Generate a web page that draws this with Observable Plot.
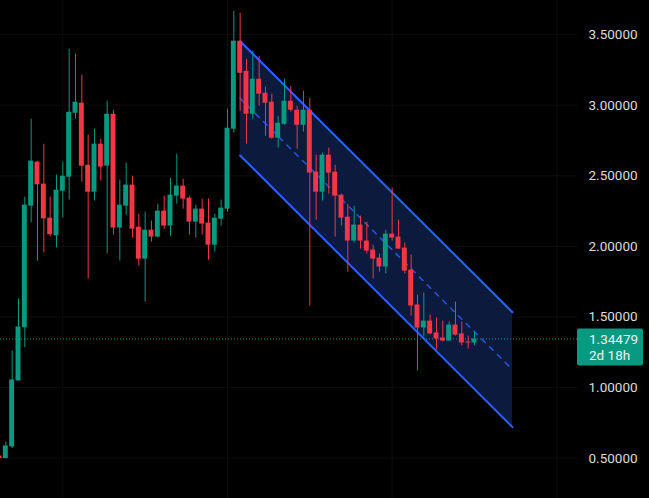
<!DOCTYPE html>
<html>
<head>
<meta charset="utf-8">
<script src="https://cdn.jsdelivr.net/npm/d3@7"></script>
<script src="https://cdn.jsdelivr.net/npm/@observablehq/plot@0.6"></script>
<style>
  html, body { margin: 0; padding: 0; background: #000; }
  #chart { width: 649px; height: 498px; overflow: hidden; }
</style>
</head>
<body>
<div id="chart"></div>
<script>
// Candle data (index order, oldest first)
const opens  = [0.515,0.497,0.580,1.047,1.424,2.285,2.597,2.441,2.200,2.075,2.391,2.490,2.943,3.014,2.575,2.384,2.724,2.568,2.936,2.130,2.285,2.434,2.136,1.910,2.115,2.066,2.250,2.144,2.356,2.427,2.342,2.172,2.264,2.165,2.009,2.193,2.264,2.830,3.453,3.240,2.936,3.184,3.085,3.021,2.766,2.865,3.028,2.964,2.858,2.964,2.526,2.384,2.646,2.526,2.363,2.207,2.038,2.151,2.038,1.974,1.917,1.854,2.087,2.066,1.988,1.832,1.585,1.422,1.471,1.387,1.351,1.330,1.443,1.380,1.323,1.316];
const highs  = [0.520,0.615,1.259,1.629,2.349,2.901,2.600,2.724,2.349,2.505,2.597,3.396,3.361,3.212,2.788,2.830,2.759,3.028,2.964,2.469,2.589,2.497,2.229,2.243,2.179,2.299,2.356,2.483,2.653,2.476,2.356,2.292,2.335,2.335,2.229,2.328,2.972,3.665,3.651,3.325,3.382,3.347,3.127,3.078,2.922,3.184,3.134,2.993,3.099,3.049,2.646,2.660,2.696,2.575,2.370,2.299,2.285,2.214,2.172,2.009,1.946,2.115,2.413,2.186,2.024,1.939,1.655,1.670,1.514,1.493,1.471,1.464,1.606,1.464,1.365,1.394];
const lows   = [0.490,0.497,0.568,1.047,1.283,2.167,1.896,1.953,2.068,1.990,2.202,2.328,2.901,2.455,1.769,2.321,2.462,1.946,2.080,1.896,2.221,2.059,1.861,1.606,2.031,2.059,2.122,2.073,2.299,2.264,2.080,2.059,2.080,1.903,1.960,2.144,2.243,2.802,2.957,2.724,2.901,2.993,2.780,2.759,2.696,2.858,2.950,2.688,2.809,1.578,2.186,2.321,2.370,2.066,2.144,1.818,2.024,1.981,1.946,1.769,1.818,1.804,2.038,1.980,1.804,1.507,1.118,1.358,1.373,1.266,1.323,1.330,1.365,1.295,1.273,1.295];
const closes = [0.497,0.587,1.054,1.429,2.292,2.604,2.436,2.195,2.082,2.398,2.497,2.950,3.021,2.568,2.384,2.724,2.561,2.936,2.130,2.292,2.434,2.122,1.910,2.115,2.066,2.250,2.144,2.363,2.427,2.335,2.172,2.264,2.158,2.009,2.200,2.271,2.837,3.453,3.226,2.936,3.184,3.078,3.014,2.766,2.872,3.028,2.964,2.858,2.964,2.519,2.384,2.646,2.519,2.356,2.200,2.038,2.151,2.038,1.967,1.910,1.854,2.087,2.059,1.981,1.825,1.578,1.422,1.471,1.380,1.344,1.330,1.443,1.372,1.316,1.316,1.34479];

// Regression channel (start / end bar index, upper / lower values)
const channelIdx   = [38, 81];
const channelUpper = [3.453, 1.534];
const channelLower = [2.644, 0.720];

// Axis ticks and time grid positions
const yTicks = [0.5, 1.0, 1.5, 2.0, 2.5, 3.0, 3.5];
const timeGridIdx = [10, 36, 62, 88];

const lastPrice = 1.34479;
const countdown = "2d 18h";

const UP = "#089981", DOWN = "#f23645";

const candles = opens.map((o, i) => ({i, o, h: highs[i], l: lows[i], c: closes[i], up: closes[i] >= o}));
const channel = channelIdx.map((x, k) => ({i: x, upper: channelUpper[k], lower: channelLower[k], mid: (channelUpper[k] + channelLower[k]) / 2}));

function priceLabel(...args) {
  const scales = args[1];
  const dims = args.find(a => a && typeof a === "object" && "marginRight" in a && "width" in a);
  const y = scales.y(lastPrice);
  const x0 = dims.width - dims.marginRight;
  const g = d3.create("svg:g").attr("text-anchor", "start");
  g.append("rect").attr("x", x0).attr("y", y - 10).attr("width", 66).attr("height", 37).attr("rx", 2).attr("fill", UP);
  g.append("text").attr("x", x0 + 12).attr("y", y + 1).attr("dy", "0.35em").attr("text-anchor", "start")
    .attr("fill", "#f0f0f0").attr("font-family", "Roboto, sans-serif").attr("font-size", 13.5).text(lastPrice.toFixed(5));
  g.append("text").attr("x", x0 + 12).attr("y", y + 17).attr("dy", "0.35em").attr("text-anchor", "start")
    .attr("fill", "#f0f0f0").attr("font-family", "Roboto, sans-serif").attr("font-size", 13.5).text(countdown);
  return g.node();
}

const chart = Plot.plot({
  width: 649,
  height: 498,
  marginLeft: 0,
  marginRight: 72,
  marginTop: 0,
  marginBottom: 0,
  style: {background: "#000", fontFamily: "Roboto, sans-serif"},
  x: {domain: [1 / 6.333, 578 / 6.333], axis: null},
  y: {domain: [0.2146, 3.7415], axis: null},
  marks: [
    Plot.ruleY(yTicks, {stroke: "#0e0e0e", strokeWidth: 1}),
    Plot.ruleX(timeGridIdx, {stroke: "#0e0e0e", strokeWidth: 1}),
    Plot.areaY(channel, {x: "i", y1: "lower", y2: "upper", fill: "#0c1a3e"}),
    Plot.line(channel, {x: "i", y: "upper", stroke: "#2962ff", strokeWidth: 2}),
    Plot.line(channel, {x: "i", y: "lower", stroke: "#2962ff", strokeWidth: 2}),
    Plot.line(channel, {x: "i", y: "mid", stroke: "#2962ff", strokeWidth: 1.5, strokeDasharray: "5,6", strokeOpacity: 0.85}),
    Plot.ruleY([lastPrice], {stroke: UP, strokeWidth: 1, strokeDasharray: "1,2"}),
    Plot.ruleX(candles, {x: "i", y1: "l", y2: "h", stroke: d => d.up ? UP : DOWN, strokeWidth: 1}),
    Plot.rect(candles, {x1: d => d.i - 0.39, x2: d => d.i + 0.39, y1: "o", y2: "c", fill: d => d.up ? UP : DOWN}),
    Plot.axisY(yTicks, {anchor: "right", tickSize: 0, tickPadding: 11, tickFormat: d => d.toFixed(5), fill: "#dcdcdc", fontSize: 13.5, fontFamily: "Roboto, sans-serif"}),
    priceLabel
  ]
});
document.getElementById("chart").appendChild(chart);
</script>
</body>
</html>
